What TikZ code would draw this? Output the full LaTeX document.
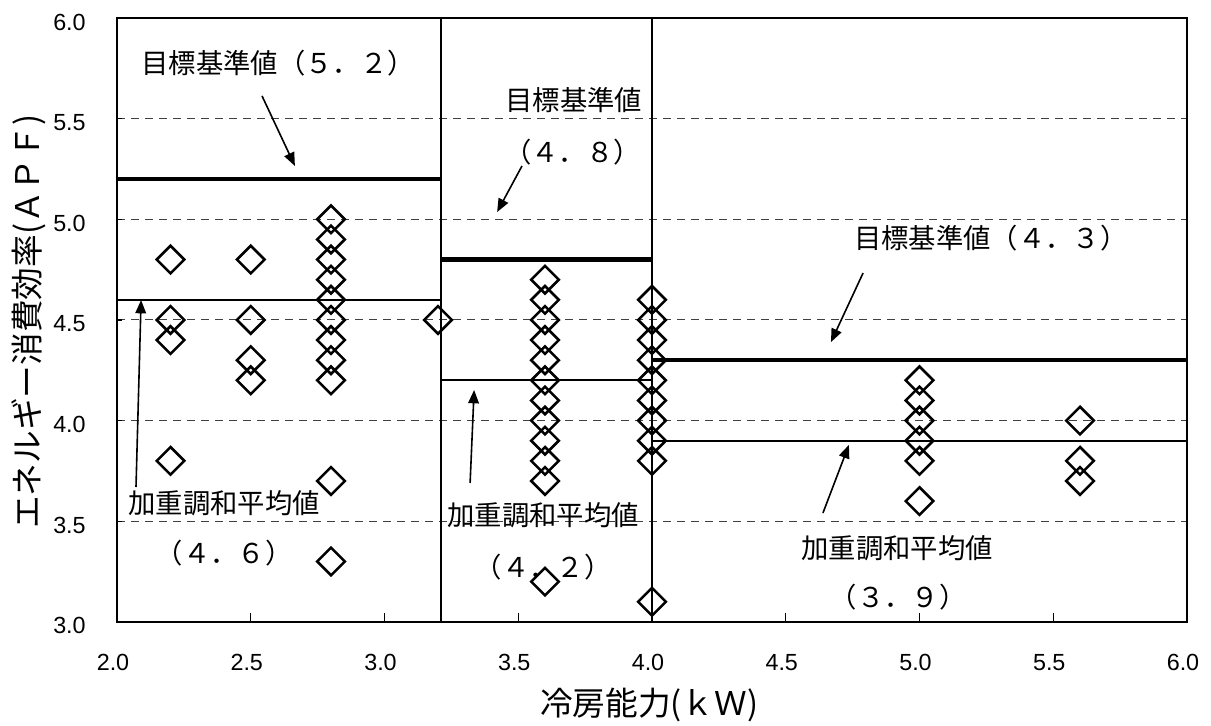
\documentclass[tikz,border=0pt]{standalone}
\usepackage{fontspec}
\setmainfont{Liberation Sans}
\newfontfamily\jp{Noto Sans CJK JP}
\usepackage{tikz}
\usetikzlibrary{arrows.meta,shapes.geometric}

\tikzset{
	dia/.style={draw, diamond, aspect=1, minimum size=21.5pt, inner sep=0pt, line width=1.9pt},
	gridln/.style={dash pattern=on 6pt off 4.5pt, line width=0.7pt, color=black!75},
	tgtln/.style={line width=3.4pt},
	avgln/.style={line width=1.5pt},
	note/.style={font=\jp\fontsize{20.5}{24}\selectfont, inner sep=0pt},
	arr/.style={line width=1.2pt, -{Triangle[length=10pt,width=8pt]}},
	ticklbl/.style={font=\fontsize{17.5}{20}\selectfont, inner sep=0pt},
	axtitle/.style={font=\jp\fontsize{24.5}{28}\selectfont, inner sep=0pt}
}

\begin{document}
\begin{tikzpicture}[x=200.625pt, y=150.975pt]
			%%%%% START %%%%%
			\useasboundingbox (1.5626, 2.4834) rectangle (6.0897, 6.0894);
			
			\foreach \v in {3.5,4.0,4.5,5.0,5.5}
				\draw[gridln] (2, \v) -- (6, \v);
			
			\foreach \t in {2.5,3.0,3.5,4.0,4.5,5.0,5.5}
				\draw[line width=0.9pt] (\t, 3) -- ++(0, 7pt);
			\foreach \v in {3.5,4.0,4.5,5.0,5.5}
				\draw[line width=0.9pt] (2, \v) -- ++(4pt, 0);
			
			\draw[line width=1.7pt] (3.21, 3) -- (3.21, 6);
			\draw[line width=1.7pt] (4, 3) -- (4, 6);
			
			\draw[tgtln] (1.995, 5.2) -- (3.21, 5.2);
			\draw[tgtln] (3.21, 4.8) -- (4, 4.8);
			\draw[tgtln] (4, 4.3) -- (6, 4.3);
			
			\draw[avgln] (2, 4.6) -- (3.21, 4.6);
			\draw[avgln] (3.21, 4.2) -- (4, 4.2);
			\draw[avgln] (4, 3.9) -- (6, 3.9);
			
			\draw[line width=2pt] (2, 3) rectangle (6, 6);
			
			% diamonds
			\foreach \y [count=\i] in {4.8,4.5,4.4,3.8}
				\node[dia] (pa\i) at (2.2, \y) {};
			\foreach \y [count=\i] in {4.8,4.5,4.3,4.2}
				\node[dia] (pb\i) at (2.5, \y) {};
			\foreach \y [count=\i] in {5.0,4.9,4.8,4.7,4.6,4.5,4.4,4.3,4.2,3.7,3.3}
				\node[dia] (pc\i) at (2.8, \y) {};
			\node[dia] (pd1) at (3.2, 4.5) {};
			\foreach \y [count=\i] in {4.7,4.6,4.5,4.4,4.3,4.2,4.1,4.0,3.9,3.8,3.7,3.2}
				\node[dia] (pe\i) at (3.6, \y) {};
			\foreach \y [count=\i] in {4.6,4.5,4.4,4.3,4.2,4.1,4.0,3.9,3.8,3.1}
				\node[dia] (pf\i) at (4.0, \y) {};
			\foreach \y [count=\i] in {4.2,4.1,4.0,3.9,3.8,3.6}
				\node[dia] (pg\i) at (5.0, \y) {};
			\foreach \y [count=\i] in {4.0,3.8,3.7}
				\node[dia] (ph\i) at (5.6, \y) {};
			
			% notes
			\node[note] (tgtA) at (2.602, 5.776) {目標基準値（５．２）};
			\node[note] (tgtB) at (3.708, 5.593) {目標基準値};
			\node[note] (tgtBv) at (3.703, 5.334) {（４．８）};
			\node[note] (tgtC) at (5.267, 4.907) {目標基準値（４．３）};
			\node[note] (avgA) at (2.4, 3.591) {加重調和平均値};
			\node[note] (avgAv) at (2.4, 3.342) {（４．６）};
			\node[note] (avgB) at (3.593, 3.531) {加重調和平均値};
			\node[note] (avgBv) at (3.593, 3.273) {（４．２）};
			\node[note] (avgC) at (4.916, 3.367) {加重調和平均値};
			\node[note] (avgCv) at (4.920, 3.124) {（３．９）};
			
			\coordinate (tgtAs) at (2.542, 5.613);
			\coordinate (tgtAe) at (2.665, 5.265);
			\coordinate (tgtBs) at (3.514, 5.265);
			\coordinate (tgtBe) at (3.421, 5.036);
			\coordinate (tgtCs) at (4.789, 4.733);
			\coordinate (tgtCe) at (4.669, 4.390);
			\coordinate (avgAs) at (2.071, 3.670);
			\coordinate (avgAe) at (2.090, 4.599);
			\coordinate (avgBs) at (3.320, 3.690);
			\coordinate (avgBe) at (3.335, 4.152);
			\coordinate (avgCs) at (4.639, 3.541);
			\coordinate (avgCe) at (4.736, 3.879);
			
			\draw[arr] (tgtAs) -- (tgtAe);
			\draw[arr] (tgtBs) -- (tgtBe);
			\draw[arr] (tgtCs) -- (tgtCe);
			\draw[arr] (avgAs) -- (avgAe);
			\draw[arr] (avgBs) -- (avgBe);
			\draw[arr] (avgCs) -- (avgCe);
			
			% axes
			\foreach \t [count=\i] in {2.0,2.5,3.0,3.5,4.0,4.5,5.0,5.5,6.0}
				\node[ticklbl] (xl\i) at (\t-0.015, 2.8) {\t};
			\foreach \v [count=\i] in {3.0,3.5,4.0,4.5,5.0,5.5,6.0}
				\node[ticklbl, anchor=east] (yl\i) at (1.884, \v-0.02) {\v};
			
			\node[axtitle] (xtitle) at (3.989, 2.587) {冷房能力(ｋＷ)};
			\node[axtitle, rotate=90] (ytitle) at (1.671, 4.490) {エネルギー消費効率(ＡＰＦ)};
			%%%%% END %%%%%
		\end{tikzpicture}
\end{document}
